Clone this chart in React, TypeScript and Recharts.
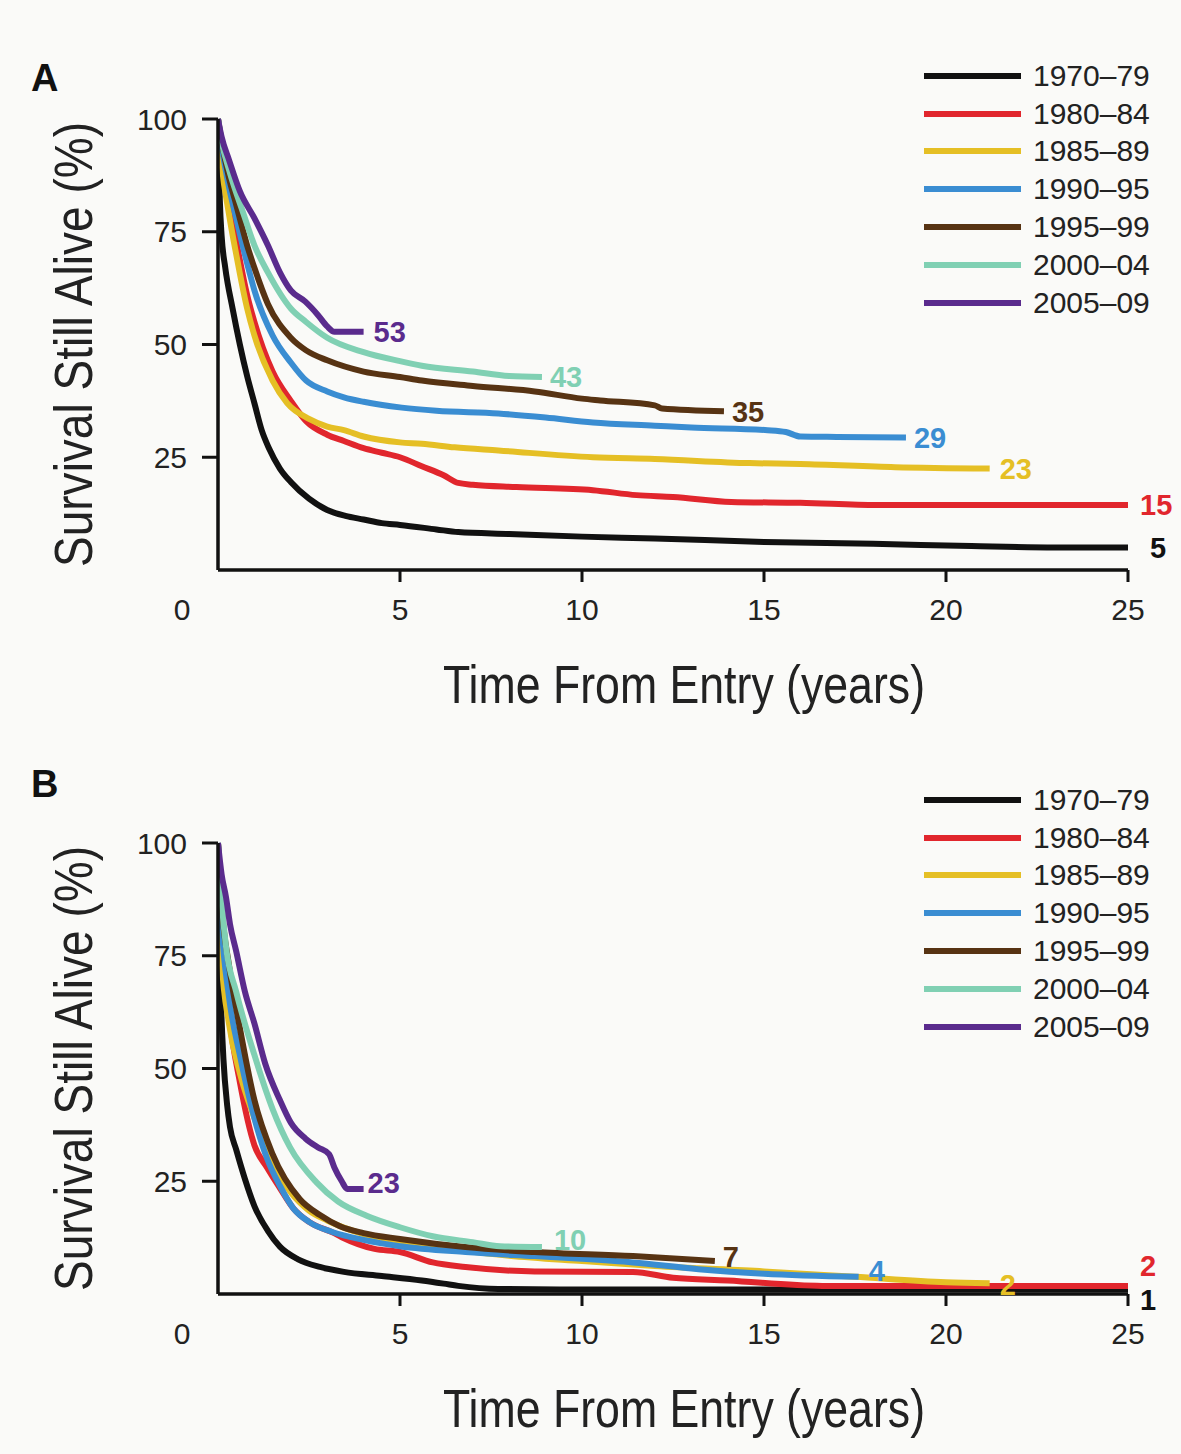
import React from "react";
import { LineChart, Line, XAxis, YAxis, Legend } from "recharts";

// cohorts and their colours
const cohorts = ["1970–79", "1980–84", "1985–89", "1990–95", "1995–99", "2000–04", "2005–09"];
const colors = ["#111111", "#e1262d", "#e5bf25", "#3a8dd2", "#573313", "#80d0b3", "#5a2b8d"];

const xTicks = [0, 5, 10, 15, 20, 25];
const yTicks = [25, 50, 75, 100];

// Panel A: [years, % alive]
const a7079 = [[0, 100], [0.05, 82], [0.1, 74], [0.2, 67], [0.4, 58], [0.6, 50], [0.8, 43], [1, 37], [1.2, 31], [1.4, 27], [1.7, 22.5], [2, 19.5], [2.5, 15.8], [3, 13.3], [3.5, 12], [4, 11.2], [4.5, 10.4], [5, 10], [6, 9], [6.6, 8.4], [8, 8], [10, 7.4], [12, 7], [15, 6.2], [18, 5.8], [20.7, 5.3], [23, 5], [25, 5]];
const a8084 = [[0, 100], [0.1, 92], [0.3, 82], [0.5, 73], [0.8, 61], [1, 55], [1.5, 44], [2, 37.5], [2.42, 33], [3, 30], [3.46, 28.6], [4, 27], [4.5, 26], [5, 25], [5.6, 23], [6.2, 21], [6.6, 19.3], [7, 18.9], [8.2, 18.4], [10.3, 17.7], [11.5, 16.6], [12.5, 16.2], [14.1, 15.1], [16, 14.9], [18.1, 14.4], [25, 14.4]];
const a8589 = [[0, 100], [0.1, 90], [0.3, 79], [0.5, 70], [0.8, 58], [1, 52], [1.5, 42], [1.9, 37], [2.5, 33.5], [3, 31.8], [3.46, 31], [4, 29.6], [5, 28.3], [5.6, 28], [6.5, 27.2], [7.7, 26.5], [10.3, 25], [12, 24.6], [14.6, 23.7], [16, 23.5], [18.6, 22.8], [21.2, 22.5]];
const a9095 = [[0, 100], [0.1, 94], [0.3, 85], [0.5, 78], [0.8, 68], [1, 62], [1.5, 52], [2, 46], [2.42, 42], [3, 39.6], [3.46, 38.3], [4, 37.3], [5.05, 36], [6, 35.3], [7.7, 34.7], [9, 33.8], [10.3, 32.7], [12, 32], [13, 31.6], [15.1, 31], [15.6, 30.6], [16, 29.6], [17, 29.5], [18.9, 29.4]];
const a9599 = [[0, 100], [0.1, 95], [0.3, 87], [0.5, 81], [0.8, 72], [1, 67], [1.37, 59], [2, 51.5], [2.42, 48.7], [3, 46.5], [4, 44], [5, 42.8], [5.6, 42], [7, 40.8], [8.7, 39.6], [10, 38], [10.5, 37.6], [12, 36.5], [12.2, 35.8], [13.9, 35.2]];
const a0004 = [[0, 100], [0.1, 95], [0.33, 88], [0.7, 79], [1, 72], [1.37, 66], [2, 58], [2.42, 55], [3, 51.5], [4, 48.3], [5, 46.3], [5.6, 45.3], [7, 44], [8, 43], [8.9, 42.8]];
const a0509 = [[0, 100], [0.1, 96], [0.3, 91], [0.6, 84], [1, 78], [1.37, 72], [1.7, 66], [2, 62], [2.4, 59.5], [2.75, 56.5], [3, 54], [3.2, 52.8], [4, 52.8]];
const endA = ["5", "15", "23", "29", "35", "43", "53"];

// Panel B
const b7079 = [[0, 100], [0.03, 80], [0.08, 65], [0.15, 52], [0.25, 42], [0.33, 37], [0.5, 32], [0.74, 25.5], [1, 19.5], [1.37, 14], [1.7, 10.5], [2.2, 7.7], [2.8, 6], [3.46, 4.9], [4.5, 4], [5.6, 3], [6.2, 2.3], [6.6, 1.8], [7.7, 1.1], [10, 1], [15, 1], [20, 1], [25, 1]];
const b8084 = [[0, 100], [0.1, 80], [0.3, 62], [0.6, 47], [1, 33], [1.35, 28], [1.7, 23.5], [2.07, 19], [2.5, 16], [3.16, 13.6], [3.4, 12.6], [4.3, 10], [5, 9.3], [5.9, 7], [6.8, 6], [8.7, 5], [11.4, 4.9], [12.5, 3.6], [14, 3], [16.6, 1.8], [25, 1.8]];
const b8589 = [[0, 100], [0.1, 74], [0.3, 60], [0.6, 49], [1, 39], [1.5, 29], [2, 22.5], [2.5, 18.5], [3, 16.3], [4, 13.3], [5, 11.8], [6, 10.4], [8, 8.5], [10, 7.3], [12, 6.2], [15, 5], [17.5, 3.8], [20, 2.6], [21.2, 2.4]];
const b9095 = [[0, 100], [0.1, 82], [0.3, 66], [0.6, 53], [1, 39], [1.35, 30], [1.7, 24], [2.07, 19], [2.5, 16], [3.16, 13.7], [4, 12], [5, 10.6], [6.8, 9.3], [8.7, 8.4], [10, 7.8], [11.4, 7], [13.2, 5.5], [15, 4.5], [17.6, 3.8]];
const b9599 = [[0, 100], [0.1, 86], [0.3, 73], [0.6, 59], [1, 43], [1.5, 31], [2.25, 21], [2.8, 17.5], [3.35, 15], [4, 13.5], [5, 12.2], [6.8, 10.4], [8.7, 9.3], [11.4, 8.4], [13.65, 7.3]];
const b0004 = [[0, 100], [0.1, 87], [0.22, 77], [0.5, 67], [1, 53], [1.5, 41], [1.98, 32.5], [2.7, 24.8], [3.3, 20.5], [4.1, 17.3], [5, 14.8], [5.9, 12.8], [7, 11.5], [7.75, 10.6], [8.9, 10.4]];
const b0509 = [[0, 100], [0.1, 93], [0.22, 88], [0.33, 82], [0.5, 76], [0.74, 67], [1, 60], [1.3, 51], [1.7, 43], [2, 38], [2.4, 34.5], [2.75, 32.5], [3.05, 31], [3.2, 28], [3.4, 25], [3.55, 23.3], [4, 23.3]];
const endB = ["1", "2", "2", "4", "7", "10", "23"];

const seriesA = [a7079, a8084, a8589, a9095, a9599, a0004, a0509];
const seriesB = [b7079, b8084, b8589, b9095, b9599, b0004, b0509];

// end-label nudges (px)
const dxA = [22, 12, 10, 8, 8, 8, 10];
const dyA = [0, 0, 0, 0, 0, 0, 0];
const dxB = [12, 12, 10, 10, 8, 12, 4];
const dyB = [10, -20, 1, -6, -5, -8, -6];

const sans = "'Liberation Sans', Arial, sans-serif";

const XTick = (props: any) => {
  const { x, y, payload } = props;
  const v = payload.value;
  return (
    <g>
      {v !== 0 && <line x1={x} x2={x} y1={y - 29} y2={y - 17} stroke="#111" strokeWidth={3} />}
      <text x={v === 0 ? x - 36 : x} y={y} dy="0.71em" textAnchor="middle" fill="#222" fontSize={30} fontFamily={sans}>
        {v}
      </text>
    </g>
  );
};

const LegendBox = (props: any) => (
  <div style={{ fontFamily: sans, fontSize: 30, color: "#222" }}>
    {props.payload.map((p: any) => (
      <div key={p.value} style={{ display: "flex", alignItems: "center", height: 37.8 }}>
        <span style={{ display: "inline-block", width: 97, height: 6, background: p.color, marginRight: 12 }} />
        <span style={{ lineHeight: 1 }}>{p.value}</span>
      </div>
    ))}
  </div>
);

function Panel({ series, ends, dx, dy, top, height }: any) {
  return (
    <div style={{ position: "absolute", left: 0, top }}>
      <LineChart width={1181} height={height} margin={{ top: 118, right: 53, bottom: height - 569 - 150, left: 118 }}>
        <XAxis
          dataKey="t"
          type="number"
          domain={[0, 25]}
          ticks={xTicks}
          height={150}
          allowDataOverflow
          axisLine={{ stroke: "#111", strokeWidth: 3.5 }}
          tickLine={false}
          tickSize={12}
          tickMargin={17}
          tick={<XTick />}
          label={{
            content: (p: any) => (
              <text
                x={p.viewBox.x + p.viewBox.width / 2 + 11}
                y={p.viewBox.y + 133}
                textAnchor="middle"
                fontSize={54}
                fontFamily={sans}
                fill="#222"
                textLength={482}
                lengthAdjust="spacingAndGlyphs"
              >
                Time From Entry (years)
              </text>
            ),
          }}
        />
        <YAxis
          type="number"
          domain={[0, 100]}
          ticks={yTicks}
          width={100}
          axisLine={{ stroke: "#111", strokeWidth: 3.5 }}
          tickLine={{ stroke: "#111", strokeWidth: 3 }}
          tickSize={16}
          tickMargin={15}
          tick={{ fill: "#222", fontSize: 30, fontFamily: sans }}
          label={{
            content: (p: any) => {
              const cy = p.viewBox.y + p.viewBox.height / 2;
              return (
                <text
                  x={92}
                  y={cy}
                  transform={`rotate(-90 92 ${cy})`}
                  textAnchor="middle"
                  fontSize={54}
                  fontFamily={sans}
                  fill="#222"
                  textLength={445}
                  lengthAdjust="spacingAndGlyphs"
                >
                  Survival Still Alive (%)
                </text>
              );
            },
          }}
        />
        <Legend
          layout="vertical"
          align="center"
          verticalAlign="middle"
          wrapperStyle={{ top: 56, left: 924, width: 250 }}
          content={<LegendBox />}
        />
        {series.map((pts: number[][], i: number) => (
          <Line
            key={cohorts[i]}
            name={cohorts[i]}
            data={pts.map(([t, v]) => ({ t, v }))}
            dataKey="v"
            type="monotoneX"
            stroke={colors[i]}
            strokeWidth={6}
            dot={false}
            activeDot={false}
            isAnimationActive={false}
            label={(lp: any) =>
              lp.index === pts.length - 1 ? (
                <text key="end" x={lp.x + dx[i]} y={lp.y + dy[i]} dy="0.36em" fill={colors[i]} fontSize={29} fontWeight="bold" fontFamily={sans}>
                  {ends[i]}
                </text>
              ) : (
                <g key={lp.index} />
              )
            }
          />
        ))}
      </LineChart>
    </div>
  );
}

export default function App() {
  const letter = { position: "absolute" as const, left: 31, fontSize: 38, fontWeight: "bold" as const, fontFamily: sans, lineHeight: 1, color: "#111" };
  return (
    <div style={{ position: "absolute", left: 0, top: 0, width: 1181, height: 1454, background: "#fafaf8" }}>
      <div style={{ ...letter, top: 59 }}>A</div>
      <div style={{ ...letter, top: 765 }}>B</div>
      <Panel series={seriesA} ends={endA} dx={dxA} dy={dyA} top={1} height={740} />
      <Panel series={seriesB} ends={endB} dx={dxB} dy={dyB} top={725} height={729} />
    </div>
  );
}
